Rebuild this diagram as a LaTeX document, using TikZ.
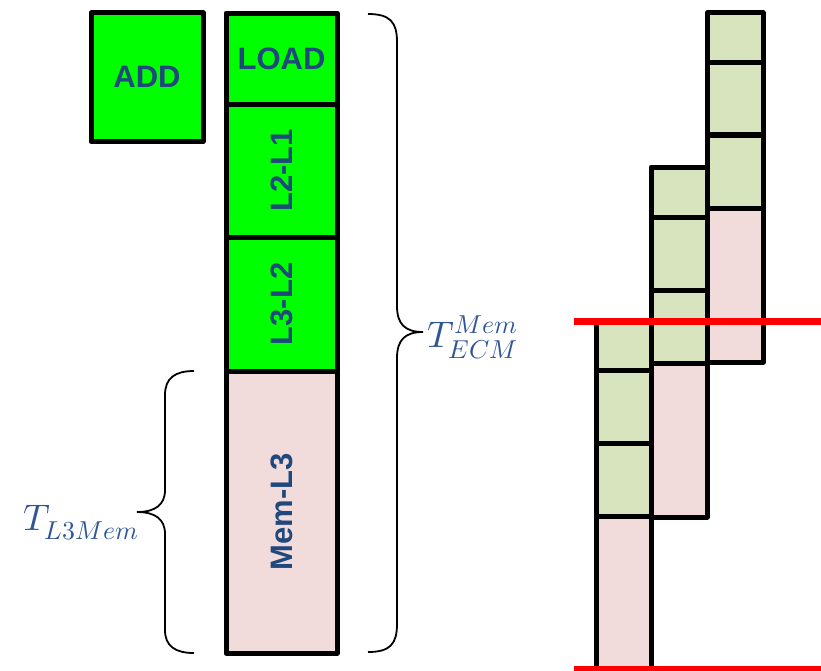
\documentclass[tikz,border=0pt]{standalone}
\usepackage{fontspec}
\usepackage{unicode-math}
\setmainfont{Liberation Sans}
\definecolor{bgreen}{HTML}{00FF00}
\definecolor{lgreen}{HTML}{D7E4BD}
\definecolor{lpink}{HTML}{F2DCDB}
\definecolor{txtblue}{HTML}{1F497D}
\definecolor{mathblue}{HTML}{2F5597}
\definecolor{lred}{HTML}{FF0000}
\begin{document}
\begin{tikzpicture}[x=1pt,y=-1pt,
  box/.style={draw=black, line width=5pt, line join=round, inner sep=0pt, outer sep=0pt,
    font=\bfseries\fontsize{31}{31}\selectfont, text=txtblue},
  gbox/.style={box, fill=bgreen},
  pbox/.style={box, fill=lpink},
  cell/.style={draw=black, line width=5pt, line join=round, inner sep=0pt, outer sep=0pt, minimum width=56pt},
  gcell/.style={cell, fill=lgreen},
  pcell/.style={cell, fill=lpink},
  brace/.style={draw=black, line width=1.8pt},
  mlabel/.style={text=mathblue, font=\fontsize{37}{40}\selectfont, inner sep=0pt},
  redline/.style={draw=lred, line width=7pt}
]
\useasboundingbox (0,0) rectangle (821,670);
% left column
\node[gbox, minimum width=112pt, minimum height=128.5pt] (add) at (147,77.2) {ADD};
\node[gbox, minimum width=111pt, minimum height=91pt] (load) at (281.5,58.5) {LOAD};
\node[gbox, minimum width=111pt, minimum height=133pt] (l2l1) at (281.5,170.5) {\rotatebox{90}{L2-L1}};
\node[gbox, minimum width=111pt, minimum height=134pt] (l3l2) at (281.5,304) {\rotatebox{90}{L3-L2}};
\node[pbox, minimum width=111pt, minimum height=282pt] (meml3) at (281.5,512) {\rotatebox{90}{Mem-L3}};
% right brace
\coordinate (rb1) at (368,14);
\coordinate (rbtip) at (423,332);
\coordinate (rb2) at (368,652);
\draw[brace] (rb1) .. controls (390,14) and (397,22) .. (397,42) -- (397,306)
  .. controls (397,324) and (405,332) .. (rbtip)
  .. controls (405,332) and (397,340) .. (397,358) -- (397,624)
  .. controls (397,644) and (390,652) .. (rb2);
\node[mlabel, anchor=base west] (tecm) at (427,347) {$T^{Mem}_{ECM}$};
% left brace
\coordinate (lb1) at (194,371);
\coordinate (lbtip) at (137,512);
\coordinate (lb2) at (194,653);
\draw[brace] (lb1) .. controls (175,371) and (165,378) .. (165,395) -- (165,490)
  .. controls (165,505) and (155,512) .. (lbtip)
  .. controls (155,512) and (165,519) .. (165,534) -- (165,630)
  .. controls (165,646) and (175,653) .. (lb2);
\node[mlabel, anchor=base west] (tl3) at (23,530) {$T_{L3Mem}$};
% right columns: col3
\node[gcell, minimum height=49.7pt] (c3a) at (735,37.8) {};
\node[gcell, minimum height=72.3pt] (c3b) at (735,98.8) {};
\node[gcell, minimum height=73pt] (c3c) at (735,171.5) {};
\node[pcell, minimum height=154pt] (c3d) at (735,285) {};
% col2
\node[gcell, minimum height=50pt] (c2a) at (679,192) {};
\node[gcell, minimum height=73pt] (c2b) at (679,253.5) {};
\node[gcell, minimum height=73pt] (c2c) at (679,326.5) {};
\node[pcell, minimum height=154pt] (c2d) at (679,440) {};
% col1
\node[gcell, minimum height=49pt, minimum width=55pt] (c1a) at (623.5,345.5) {};
\node[gcell, minimum height=73pt, minimum width=55pt] (c1b) at (623.5,406.5) {};
\node[gcell, minimum height=73pt, minimum width=55pt] (c1c) at (623.5,479.5) {};
\node[pcell, minimum height=154pt, minimum width=55pt] (c1d) at (623.5,593) {};
% red lines
\coordinate (ra1) at (574,321);
\coordinate (ra2) at (821,321);
\coordinate (rc1) at (574,668);
\coordinate (rc2) at (821,668);
\draw[redline] (ra1) -- (ra2);
\draw[redline, line width=5pt] (rc1) -- (rc2);
\end{tikzpicture}
\end{document}
